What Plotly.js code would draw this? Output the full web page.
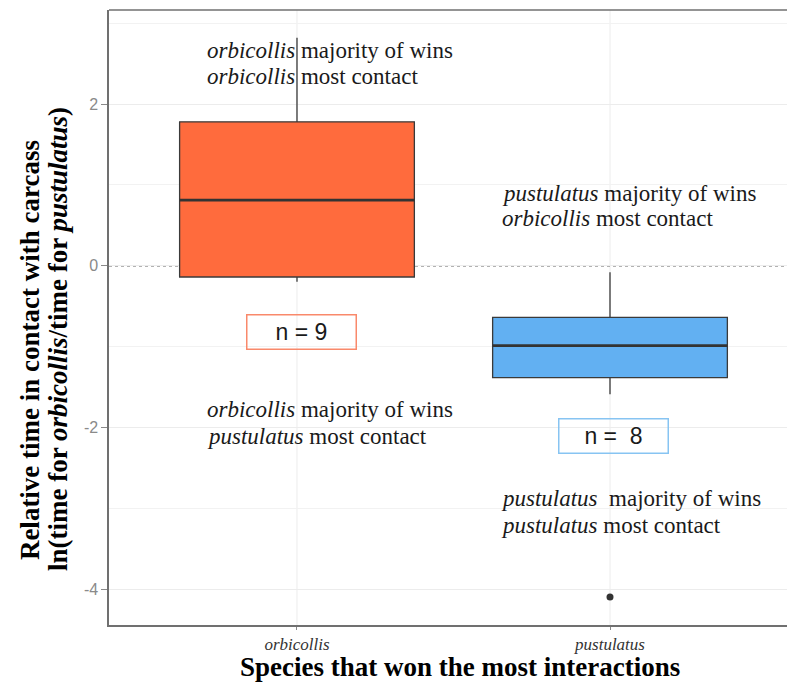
<!DOCTYPE html>
<html>
<head>
<meta charset="utf-8">
<script src="https://cdn.plot.ly/plotly-3.0.1.min.js"></script>
<style>html,body{margin:0;padding:0;background:#fff;overflow:hidden;}#chart{width:787px;height:682px;}</style>
</head>
<body>
<div id="chart"></div>
<script>
// ---- data ----
const categories = ['orbicollis', 'pustulatus'];
const q1Values = [-0.14, -1.385];
const medianValues = [0.81, -0.99];
const q3Values = [1.78, -0.64];
const lowerWhisker = [-0.20, -1.59];
const upperWhisker = [2.82, -0.08];
const outlierCategory = ['pustulatus'];
const outlierValues = [-4.10];
const sampleSizes = [9, 8];
const boxColors = ['#FF6B3D', '#62B0F2'];
const nBorderColors = ['#F9896B', '#87C4F2'];

const BOX_W = 0.75;
const serif = 'Liberation Serif, Times New Roman, serif';
const sans = 'Liberation Sans, Arial, sans-serif';

const traces = categories.map((c, i) => ({
  type: 'box',
  x: [c],
  q1: [q1Values[i]],
  median: [medianValues[i]],
  q3: [q3Values[i]],
  lowerfence: [lowerWhisker[i]],
  upperfence: [upperWhisker[i]],
  width: BOX_W,
  whiskerwidth: 0,
  fillcolor: boxColors[i],
  line: {color: '#3a3a3a', width: 1.3},
  boxpoints: false,
  hoverinfo: 'skip',
  showlegend: false
}));

traces.push({
  type: 'scatter', mode: 'markers',
  x: outlierCategory, y: outlierValues,
  marker: {color: '#333333', size: 7},
  hoverinfo: 'skip', showlegend: false
});

// thicker median segments
const shapes = categories.map((c, i) => ({
  type: 'line', xref: 'x', yref: 'y',
  x0: i - BOX_W / 2, x1: i + BOX_W / 2,
  y0: medianValues[i], y1: medianValues[i],
  line: {color: '#333333', width: 2.8}
}));
// vertical category gridlines
categories.forEach((c, i) => shapes.push({
  type: 'line', xref: 'x', yref: 'paper', x0: i, x1: i, y0: 0, y1: 1,
  layer: 'below', line: {color: '#ECECEC', width: 1}
}));
shapes.push({type: 'line', xref: 'paper', yref: 'y', x0: 0, x1: 1, y0: 0, y1: 0,
  layer: 'below', line: {color: '#666666', width: 1.4, dash: 'dot'}});
shapes.push({type: 'line', xref: 'paper', yref: 'paper', x0: 0, x1: 1, y0: 1, y1: 1,
  line: {color: '#707070', width: 1.6}});

function txt(x, y, text) {
  return {xref: 'x', yref: 'y', x: x, y: y, text: text, showarrow: false,
    xanchor: 'left', yanchor: 'middle',
    font: {family: serif, size: 23, color: '#1a1a1a'}};
}

const annotations = [
  txt(-0.294, 2.656, '<i>orbicollis</i> majority of wins'),
  txt(-0.294, 2.335, '<i>orbicollis</i> most contact'),
  txt(0.648, 0.887, '<i>pustulatus</i> majority of wins'),
  txt(0.648, 0.578, '<i>orbicollis</i> most contact'),
  txt(-0.294, -1.785, '<i>orbicollis</i> majority of wins'),
  txt(-0.294, -2.119, '<i>pustulatus</i> most contact'),
  txt(0.646, -2.886, '<i>pustulatus</i>\u00a0 majority of wins'),
  txt(0.646, -3.208, '<i>pustulatus</i> most contact'),
  // n labels
  {xref: 'x', yref: 'y', x: 0.013, y: -0.82,
    text: 'n = ' + sampleSizes[0], showarrow: false,
    width: 108, height: 33, borderpad: 0, borderwidth: 1.5,
    bordercolor: nBorderColors[0], bgcolor: 'rgba(255,255,255,0)',
    font: {family: sans, size: 23, color: '#1a1a1a'}},
  {xref: 'x', yref: 'y', x: 1.011, y: -2.113,
    text: 'n =\u00a0 ' + sampleSizes[1], showarrow: false,
    width: 108, height: 33, borderpad: 0, borderwidth: 1.5,
    bordercolor: nBorderColors[1], bgcolor: 'rgba(255,255,255,0)',
    font: {family: sans, size: 23, color: '#1a1a1a'}},
  // axis titles
  {xref: 'paper', yref: 'paper', x: 0.5177, y: -0.0685,
    text: '<b>Species that won the most interactions</b>', showarrow: false,
    xanchor: 'center', yanchor: 'middle', borderpad: 0,
    font: {family: serif, size: 27, color: '#000'}},
  {xref: 'paper', yref: 'paper', x: -0.1165, y: 0.447, textangle: -90,
    text: '<b>Relative time in contact with carcass</b>', showarrow: false,
    xanchor: 'center', yanchor: 'middle',
    font: {family: serif, size: 27, color: '#000'}},
  {xref: 'paper', yref: 'paper', x: -0.0752, y: 0.465, textangle: -90,
    text: '<b>ln(time for <i>orbicollis</i>/time for <i>pustulatus</i>)</b>', showarrow: false,
    xanchor: 'center', yanchor: 'middle',
    font: {family: serif, size: 27, color: '#000'}}
];

const layout = {
  width: 787, height: 682,
  margin: {l: 109, r: 0, t: 10, b: 57, pad: 0},
  paper_bgcolor: '#ffffff', plot_bgcolor: '#ffffff',
  showlegend: false,
  boxmode: 'overlay',
  xaxis: {
    type: 'category', categoryorder: 'array', categoryarray: categories,
    range: [-0.6006, 1.5655],
    tickvals: categories,
    ticktext: categories.map(c => '<i>' + c + '</i>'),
    tickfont: {family: serif, size: 17, color: '#333333'},
    ticks: 'outside', ticklen: 3, tickcolor: '#8a8a8a', tickwidth: 1,
    showgrid: false,
    showline: true, linecolor: '#707070', linewidth: 1.6, mirror: false,
    zeroline: false, fixedrange: true
  },
  yaxis: {
    range: [-4.445, 3.163],
    tickvals: [-4, -2, 0, 2],
    ticktext: ['-4', '-2', '0', '2'],
    tickfont: {family: sans, size: 16, color: '#8a8a8a'},
    ticks: 'outside', ticklen: 6, tickcolor: '#8a8a8a', tickwidth: 1,
    showgrid: true, gridcolor: '#ECECEC', gridwidth: 1,
    minor: {tickvals: [-3, -1, 1, 3], showgrid: true, gridcolor: '#F2F2F2', gridwidth: 1, ticks: ''},
    showline: true, linecolor: '#707070', linewidth: 1.6, mirror: false,
    zeroline: false, fixedrange: true
  },
  shapes: shapes,
  annotations: annotations
};

Plotly.newPlot('chart', traces, layout, {displayModeBar: false, staticPlot: true});
</script>
</body>
</html>
